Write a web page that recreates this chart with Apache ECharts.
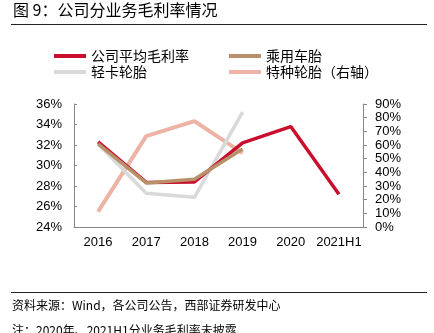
<!DOCTYPE html>
<html><head><meta charset="utf-8">
<script src="https://cdn.jsdelivr.net/npm/echarts@6/dist/echarts.min.js"></script>
<style>html,body{margin:0;padding:0;background:#fff}#c{width:434px;height:333px}</style>
</head><body><div id="c"></div>
<script>
const categories = ['2016','2017','2018','2019','2020','2021H1'];
const avgMargin = [32.3, 28.35, 28.4, 32.2, 33.8, 27.2];
const passengerTire = [32.1, 28.3, 28.65, 31.6, null, null];
const lightTruckTire = [32.1, 27.3, 26.9, 35.2, null, null];
const specialTire = [11.2, 66.5, 77.5, 54, null, null];
const leftTicks = {min: 24, max: 36, interval: 2};
const rightTicks = {min: 0, max: 90, interval: 10};
const names = ['公司平均毛利率','乘用车胎','轻卡轮胎','特种轮胎（右轴）'];

const FONT = '"Noto Sans CJK SC", sans-serif';
const chart = echarts.init(document.getElementById('c'));
const legendBase = {itemWidth: 32, itemHeight: 4, icon: 'rect', itemGap: 4,
  textStyle: {fontFamily: FONT, fontSize: 14, color: '#000', padding: [0,0,0,0]}, padding: 0};
chart.setOption({
  animation: false,
  textStyle: {fontFamily: FONT},
  graphic: [
    {type: 'text', left: 13, top: 2, style: {text: '图 9：公司分业务毛利率情况', font: '16px ' + FONT, fill: '#000'}},
    {type: 'line', shape: {x1: 11, y1: 24.5, x2: 427, y2: 24.5}, style: {stroke: '#222', lineWidth: 1}},
    {type: 'line', shape: {x1: 11, y1: 292.5, x2: 427, y2: 292.5}, style: {stroke: '#222', lineWidth: 1}},
    {type: 'text', left: 12, top: 299, style: {text: '资料来源：Wind，各公司公告，西部证券研发中心', font: '12px ' + FONT, fill: '#000'}},
    {type: 'text', left: 12, top: 324, style: {text: '注：2020年、2021H1分业务毛利率未披露', font: '12px ' + FONT, fill: '#000'}}
  ],
  legend: [
    Object.assign({}, legendBase, {left: 54, top: 49, data: [names[0]]}),
    Object.assign({}, legendBase, {left: 229, top: 49, data: [names[1]]}),
    Object.assign({}, legendBase, {left: 54, top: 65, data: [names[2]]}),
    Object.assign({}, legendBase, {left: 229, top: 65, data: [names[3]]})
  ],
  grid: {left: 74, right: 71, top: 104, bottom: 106},
  xAxis: {
    type: 'category', data: categories, boundaryGap: true,
    axisLine: {lineStyle: {color: '#888'}},
    axisTick: {inside: true, length: 4, lineStyle: {color: '#888'}},
    axisLabel: {interval: 0, color: '#000', fontSize: 13, fontFamily: 'Liberation Sans, Arial', margin: 9}
  },
  yAxis: [
    {type: 'value', min: leftTicks.min, max: leftTicks.max, interval: leftTicks.interval,
      splitLine: {show: false},
      axisLine: {show: true, lineStyle: {color: '#888'}},
      axisTick: {show: true, inside: true, length: 3, lineStyle: {color: '#888'}},
      axisLabel: {color: '#000', fontSize: 13, fontFamily: 'Liberation Sans, Arial', margin: 12, formatter: v => v + '%'}},
    {type: 'value', min: rightTicks.min, max: rightTicks.max, interval: rightTicks.interval, position: 'right',
      splitLine: {show: false},
      axisLine: {show: true, lineStyle: {color: '#888'}},
      axisTick: {show: true, length: 4, lineStyle: {color: '#888'}},
      axisLabel: {color: '#000', fontSize: 13, fontFamily: 'Liberation Sans, Arial', margin: 12, formatter: v => v + '%'}}
  ],
  series: [
    {name: names[3], type: 'line', yAxisIndex: 1, data: specialTire, symbol: 'none', z: 1,
      lineStyle: {color: '#EDB3A5', width: 4}, itemStyle: {color: '#EDB3A5'}},
    {name: names[2], type: 'line', data: lightTruckTire, symbol: 'none', z: 2,
      lineStyle: {color: '#D9D9D9', width: 3.5}, itemStyle: {color: '#D9D9D9'}},
    {name: names[0], type: 'line', data: avgMargin, symbol: 'none', z: 3,
      lineStyle: {color: '#C8102E', width: 3.5}, itemStyle: {color: '#C8102E'}},
    {name: names[1], type: 'line', data: passengerTire, symbol: 'none', z: 4,
      lineStyle: {color: '#B8916A', width: 3.5}, itemStyle: {color: '#B8916A'}}
  ]
});
</script></body></html>
